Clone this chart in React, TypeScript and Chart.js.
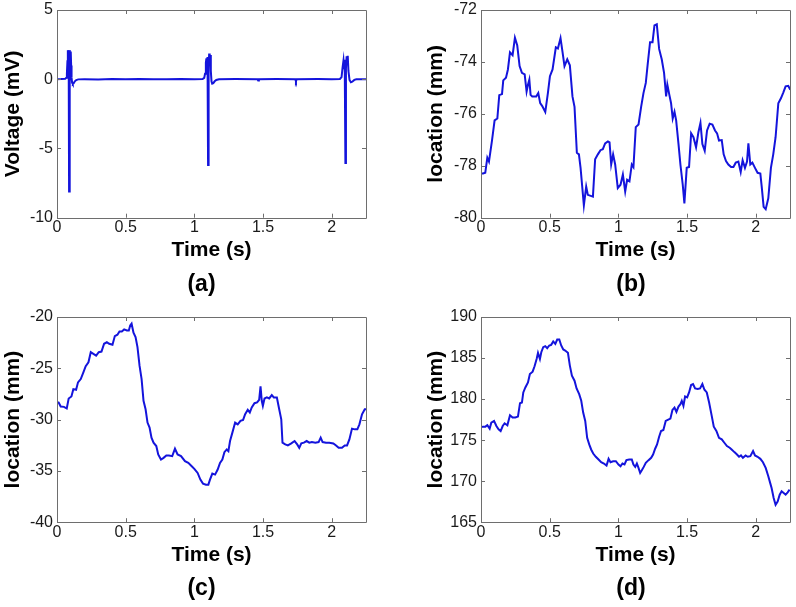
import React, { useEffect, useRef } from "react";
import { Chart, registerables } from "chart.js";

Chart.register(...registerables);

// ---------- data ----------
const xTickValues = [0, 0.5, 1, 1.5, 2];

// (a) ECG
const ecgTime = [
  0.0, 0.03, 0.06, 0.068, 0.072, 0.076, 0.079, 0.082, 0.085, 0.088, 0.091, 0.094, 0.097, 0.1, 0.103, 0.106,
  0.11, 0.115, 0.122, 0.13, 0.14, 0.155, 0.2, 0.3, 0.4, 0.5, 0.6, 0.7, 0.8, 0.9, 1.0,
  1.06, 1.072, 1.078, 1.084, 1.088, 1.092, 1.096, 1.1, 1.104, 1.108, 1.112, 1.116, 1.12, 1.125, 1.13, 1.138,
  1.148, 1.16, 1.18, 1.3, 1.46, 1.465, 1.47, 1.6, 1.735, 1.74, 1.745, 1.9, 2.0,
  2.06, 2.072, 2.08, 2.086, 2.09, 2.095, 2.1, 2.104, 2.109, 2.113, 2.117, 2.122, 2.13, 2.14, 2.15, 2.165, 2.18, 2.25,
];
const ecgVoltage = [
  0.0, 0.01, 0.03, 0.1, 0.4, 1.3, 2.1, 1.2, 2.05, -8.1, 0.8, 2.1, 1.4, 2.0, 1.0, 0.1,
  -0.25, -0.35, -0.28, -0.15, -0.06, -0.01, 0.0, -0.02, 0.01, -0.01, 0.02, 0.0, -0.01, 0.01, 0.0,
  0.02, 0.1, 0.4, 1.2, 1.5, 0.9, 1.6, -6.2, 0.9, 1.85, 1.3, 1.75, 0.6, -0.15, -0.32, -0.28,
  -0.15, -0.05, 0.0, 0.01, 0.0, -0.1, 0.0, 0.01, 0.0, -0.15, 0.0, 0.01, 0.0,
  0.02, 0.15, 0.9, 1.35, 0.8, 1.4, -6.05, 0.8, 1.65, 1.2, 1.7, 0.6, -0.05, -0.22, -0.18, -0.05, 0.0, 0.0,
];
const aYTicks = [-10, -5, 0, 5];

// (b)
const bTime = [
  0.007, 0.015, 0.031, 0.046, 0.058, 0.08, 0.099, 0.119, 0.133, 0.153, 0.162, 0.182, 0.196, 0.211, 0.23, 0.247,
  0.264, 0.281, 0.298, 0.318, 0.332, 0.342, 0.352, 0.361, 0.373, 0.402, 0.417, 0.431, 0.446, 0.468, 0.487,
  0.502, 0.521, 0.545, 0.56, 0.579, 0.594, 0.608, 0.628, 0.647, 0.666, 0.681, 0.698, 0.713, 0.725, 0.749,
  0.766, 0.778, 0.815, 0.831, 0.851, 0.87, 0.887, 0.904, 0.924, 0.936, 0.948, 0.962, 0.977, 0.996, 1.016,
  1.033, 1.05, 1.064, 1.081,
  1.098, 1.11, 1.127, 1.147, 1.166, 1.183, 1.2, 1.215, 1.231, 1.249, 1.263, 1.28, 1.297, 1.316, 1.333, 1.348,
  1.357, 1.37, 1.384, 1.396, 1.409, 1.421, 1.438, 1.452, 1.469, 1.481, 1.498, 1.515, 1.53, 1.547, 1.566,
  1.583, 1.598, 1.612, 1.629, 1.646, 1.665, 1.685, 1.704, 1.719, 1.733, 1.753, 1.767, 1.784, 1.801, 1.821,
  1.838, 1.855, 1.874, 1.891, 1.905, 1.922, 1.937, 1.947, 1.961, 1.976, 1.995, 2.014, 2.034, 2.044, 2.058,
  2.073, 2.092, 2.111, 2.128, 2.145, 2.165, 2.184, 2.201, 2.218, 2.237, 2.252,
];
const bLocation = [
  -78.3, -78.3, -78.27, -77.69, -77.84, -77.03, -76.25, -76.18, -75.28, -75.24, -74.71, -74.61, -74.29, -73.63, -73.74, -73.07,
  -73.37, -74.16, -74.42, -74.48, -75.14, -74.88, -74.68, -75.27, -75.33, -75.33, -75.2, -75.59, -75.7, -75.93, -75.2,
  -74.55, -74.29, -73.44, -73.48, -73.08, -73.63, -74.16, -73.9, -74.13, -75.33, -75.73, -77.5, -77.56, -78.08, -79.52,
  -78.8, -79.12, -79.19, -77.75, -77.56, -77.4, -77.36, -77.14, -77.06, -77.1, -77.95, -77.56, -77.95, -78.86, -78.73,
  -78.34, -78.99, -78.54, -78.6,
  -77.95, -78.05, -76.51, -76.41, -75.73, -75.2, -74.81, -74.03, -73.24, -73.24, -72.59, -72.55, -73.5, -73.9, -74.42, -75.33,
  -74.88, -75.23, -75.59, -76.18, -75.92, -76.25, -77.16, -77.95, -78.73, -79.45, -78.08, -78.05, -76.75, -76.9, -77.29,
  -76.71, -76.35, -77.16, -77.42, -76.64, -76.38, -76.41, -76.64, -76.75, -77.03, -77.01, -77.56, -77.82, -77.95, -78.05,
  -78.05, -77.88, -77.84, -78.24, -77.79, -78.08, -77.84, -77.14, -77.95, -77.88, -78.08, -78.27, -78.3, -78.8, -79.58,
  -79.67, -79.25, -78.08, -77.56, -76.9, -75.59, -75.4, -75.18, -74.94, -74.92, -75.07,
];
const bYTicks = [-80, -78, -76, -74, -72];

// (c)
const cTime = [
  0.007, 0.012, 0.027, 0.051, 0.071, 0.085, 0.105, 0.119, 0.139, 0.153, 0.173, 0.192, 0.209, 0.229, 0.246, 0.265,
  0.285, 0.304, 0.324, 0.343, 0.363, 0.38, 0.404, 0.421, 0.44, 0.455, 0.472, 0.489, 0.509, 0.523, 0.533,
  0.543, 0.557, 0.572, 0.586, 0.601, 0.616, 0.63, 0.645, 0.659, 0.674, 0.688, 0.703, 0.723, 0.737, 0.757,
  0.776, 0.796, 0.815, 0.839, 0.859, 0.878, 0.903, 0.932, 0.956, 0.981, 1.0, 1.024, 1.044, 1.063, 1.085,
  1.102, 1.114, 1.131, 1.151, 1.17, 1.187, 1.204, 1.219, 1.236, 1.248, 1.26, 1.277, 1.297, 1.316, 1.336, 1.355,
  1.37, 1.389, 1.404, 1.418, 1.438, 1.457, 1.472, 1.482, 1.491, 1.499, 1.511, 1.528, 1.545, 1.564, 1.579,
  1.601, 1.618, 1.633, 1.642, 1.662, 1.681, 1.706, 1.73, 1.749, 1.764, 1.779, 1.798, 1.818, 1.837, 1.856,
  1.881, 1.905, 1.92, 1.934, 1.959, 1.983, 2.012, 2.032, 2.051, 2.075, 2.095, 2.112, 2.129, 2.148, 2.168,
  2.187, 2.202, 2.221, 2.241, 2.255,
];
const cLocation = [
  -28.3, -28.33, -28.73, -28.76, -28.92, -27.94, -27.75, -27.03, -27.09, -26.37, -26.05, -25.39, -24.8, -24.41, -23.43, -23.59,
  -23.76, -23.43, -23.37, -22.61, -22.45, -22.61, -22.71, -21.86, -21.73, -21.41, -21.41, -21.21, -21.31, -21.31, -20.82,
  -20.65, -21.54, -21.96, -22.94, -24.74, -26.05, -28.17, -28.99, -30.29, -30.78, -31.76, -32.25, -32.58, -33.4, -33.89,
  -33.73, -33.5, -33.5, -33.56, -32.84, -33.4, -33.56, -34.05, -34.22, -34.54, -34.8, -35.2, -35.85, -36.24, -36.34,
  -36.34, -35.85, -35.26, -35.36, -34.87, -34.22, -33.89, -33.17, -32.91, -33.07, -32.09, -31.27, -30.29, -30.46, -30.13, -30.03,
  -29.48, -29.05, -29.31, -28.82, -28.4, -28.33, -28.07, -26.76, -28.17, -28.66, -27.94, -27.84, -27.94, -27.61, -27.84,
  -27.84, -28.99, -29.97, -32.25, -32.42, -32.52, -32.32, -32.09, -32.42, -32.75, -32.32, -32.25, -32.09, -32.25, -32.19,
  -32.25, -32.19, -31.76, -32.19, -32.25, -32.25, -32.32, -32.52, -32.75, -32.75, -32.52, -32.52, -31.93, -30.88, -30.95,
  -30.95, -30.46, -29.48, -28.99, -28.99,
];
const cYTicks = [-40, -35, -30, -25, -20];

// (d)
const dTime = [
  0.007, 0.015, 0.032, 0.046, 0.063, 0.075, 0.095, 0.112, 0.128, 0.143, 0.158, 0.172, 0.192, 0.211, 0.23, 0.25,
  0.269, 0.284, 0.298, 0.308, 0.323, 0.342, 0.356, 0.376, 0.39, 0.405, 0.415, 0.429, 0.439, 0.453, 0.468,
  0.482, 0.497, 0.511, 0.526, 0.541, 0.555, 0.57, 0.584, 0.599, 0.613, 0.633, 0.647, 0.662, 0.681, 0.696,
  0.715, 0.73, 0.744, 0.759, 0.773, 0.788, 0.802, 0.817, 0.836, 0.856, 0.875, 0.895, 0.914, 0.929, 0.943,
  0.962, 0.982, 1.001, 1.016, 1.03, 1.045, 1.059, 1.079,
  1.098, 1.11, 1.123, 1.135, 1.147, 1.159, 1.171, 1.185, 1.2, 1.22, 1.239, 1.253, 1.268, 1.282, 1.297, 1.311,
  1.328, 1.345, 1.36, 1.379, 1.394, 1.409, 1.423, 1.438, 1.452, 1.462, 1.474, 1.486, 1.501, 1.515, 1.53,
  1.544, 1.559, 1.578, 1.595, 1.612, 1.627, 1.644, 1.661, 1.68, 1.695, 1.714, 1.733, 1.753, 1.772, 1.791,
  1.811, 1.825, 1.845, 1.864, 1.879, 1.893, 1.907, 1.927, 1.942, 1.961, 1.981, 1.995, 2.014, 2.034, 2.053,
  2.073, 2.092, 2.107, 2.116, 2.131, 2.145, 2.16, 2.175, 2.189, 2.204, 2.218, 2.233, 2.247,
];
const dLocation = [
  176.6, 176.64, 176.64, 176.81, 176.4, 177.13, 177.34, 176.72, 176.32, 176.11, 176.72, 177.05, 176.81, 178.03, 177.75, 177.75,
  177.87, 179.5, 179.58, 180.81, 181.42, 182.03, 183.06, 183.34, 184.0, 184.89, 185.63, 184.89, 185.71, 186.32, 186.45,
  186.2, 186.53, 186.61, 187.02, 186.73, 187.26, 187.26, 186.53, 186.04, 185.92, 185.63, 184.08, 182.85, 182.24, 181.3,
  180.6, 179.79, 178.36, 177.34, 175.29, 174.48, 173.86, 173.37, 172.97, 172.64, 172.31, 172.15, 171.9, 172.72, 172.31,
  172.43, 172.43, 172.03, 171.82, 172.15, 172.03, 172.56, 172.64,
  172.64, 172.03, 171.74, 172.15, 171.62, 171.0, 171.33, 171.74, 172.23, 172.56, 172.84, 173.25, 173.95, 174.48, 175.42, 176.11,
  176.23, 177.34, 177.46, 177.62, 178.68, 178.97, 178.44, 179.09, 179.38, 179.79, 179.17, 180.32, 180.2, 180.81, 181.71,
  181.83, 181.3, 181.22, 181.3, 181.83, 181.14, 180.81, 179.58, 177.95, 176.64, 176.11, 175.29, 175.09, 174.68, 174.27,
  174.07, 173.86, 173.54, 173.25, 172.97, 173.13, 172.84, 173.13, 172.97, 173.05, 173.66, 173.13, 172.97, 172.72, 172.31,
  171.62, 170.6, 169.7, 169.17, 167.94, 167.12, 167.52, 168.35, 168.76, 168.55, 168.35, 168.63, 168.96,
];
const dYTicks = [165, 170, 175, 180, 185, 190];

// ---------- styling ----------
const FONT = "Arial, 'Liberation Sans', Helvetica, sans-serif";
const LINE_COLOR = "#1414dc";
const FRAME_COLOR = "#6e6e6e";
const TEXT_COLOR = "#1a1a1a";

const matlabFrame = {
  id: "matlabFrame",
  afterDatasetsDraw(chart: any) {
    const { ctx, chartArea, scales } = chart;
    const { left, right, top, bottom } = chartArea;
    const L = 4;
    ctx.save();
    ctx.strokeStyle = FRAME_COLOR;
    ctx.lineWidth = 1;
    ctx.beginPath();
    ctx.rect(Math.round(left) + 0.5, Math.round(top) + 0.5, Math.round(right - left), Math.round(bottom - top));
    for (const t of scales.x.ticks) {
      const px = Math.round(scales.x.getPixelForValue(t.value)) + 0.5;
      ctx.moveTo(px, bottom);
      ctx.lineTo(px, bottom - L);
      ctx.moveTo(px, top);
      ctx.lineTo(px, top + L);
    }
    for (const t of scales.y.ticks) {
      const py = Math.round(scales.y.getPixelForValue(t.value)) + 0.5;
      ctx.moveTo(left, py);
      ctx.lineTo(left + L, py);
      ctx.moveTo(right, py);
      ctx.lineTo(right - L, py);
    }
    ctx.stroke();
    ctx.restore();
  },
};

// Sub-figure caption "(a)" .. "(d)" below the axis title
const captionPlugin = {
  id: "caption",
  afterDraw(chart: any, _args: any, opts: any) {
    const { ctx, chartArea } = chart;
    ctx.save();
    ctx.font = `bold ${opts.size}px ${FONT}`;
    ctx.fillStyle = "#000";
    ctx.textAlign = "center";
    ctx.textBaseline = "middle";
    ctx.fillText(opts.text, (chartArea.left + chartArea.right) / 2 + opts.dx, chartArea.bottom + opts.dy);
    ctx.restore();
  },
};

type PanelDef = {
  time: number[];
  values: number[];
  yTicks: number[];
  yLabel: string;
  caption: string;
  captionDx: number;
  captionDy: number;
  pad: { left: number; right: number; top: number; bottom: number };
  yWidth: number;
  yTitlePad: number;
  xTitlePad: number;
};

function buildConfig(p: PanelDef): any {
  return {
    type: "line",
    data: {
      datasets: [
        {
          data: p.time.map((x, i) => ({ x, y: p.values[i] })),
          borderColor: LINE_COLOR,
          borderWidth: 2,
          pointRadius: 0,
          tension: 0,
          fill: false,
        },
      ],
    },
    options: {
      responsive: false,
      animation: false,
      events: [],
      layout: { padding: p.pad },
      plugins: {
        legend: { display: false },
        tooltip: { enabled: false },
        title: { display: false },
        caption: { text: p.caption, size: 23, dx: p.captionDx, dy: p.captionDy },
      },
      scales: {
        x: {
          type: "linear",
          min: 0,
          max: 2.25,
          afterBuildTicks: (s: any) => {
            s.ticks = xTickValues.map((v) => ({ value: v }));
          },
          grid: { display: false, drawTicks: false },
          border: { display: false },
          ticks: {
            color: TEXT_COLOR,
            padding: 0.5,
            maxRotation: 0,
            autoSkip: false,
            font: { family: FONT, size: 16, lineHeight: 1.2 },
            callback: (v: any) => String(v),
          },
          title: {
            display: true,
            text: "Time (s)",
            color: "#000",
            padding: { top: 0, bottom: p.xTitlePad },
            font: { family: FONT, size: 21, weight: "bold", lineHeight: 1.2 },
          },
        },
        y: {
          type: "linear",
          min: p.yTicks[0],
          max: p.yTicks[p.yTicks.length - 1],
          afterBuildTicks: (s: any) => {
            s.ticks = p.yTicks.map((v) => ({ value: v }));
          },
          afterFit: (s: any) => {
            s.width = p.yWidth;
          },
          grid: { display: false, drawTicks: false },
          border: { display: false },
          ticks: {
            color: TEXT_COLOR,
            padding: 4,
            autoSkip: false,
            font: { family: FONT, size: 16, lineHeight: 0.75 },
            callback: (v: any) => String(v),
          },
          title: {
            display: true,
            text: p.yLabel,
            color: "#000",
            padding: { top: p.yTitlePad, bottom: 0 },
            font: { family: FONT, size: 21, weight: "bold", lineHeight: 1.2 },
          },
        },
      },
    },
    plugins: [matlabFrame, captionPlugin],
  };
}

// x scale height is fixed by the bottom padding so that the axis title lands where the reference has it
const panels: { def: PanelDef; left: number; top: number; width: number; height: number }[] = [
  {
    left: 0, top: 0, width: 398, height: 303,
    def: {
      time: ecgTime, values: ecgVoltage, yTicks: aYTicks, yLabel: "Voltage (mV)", caption: "(a)",
      captionDx: -10, captionDy: 66.5,
      pad: { left: 0, right: 32, top: 10, bottom: 36.3 }, yWidth: 57, yTitlePad: 1, xTitlePad: 3.6,
    },
  },
  {
    left: 398, top: 0, width: 398, height: 303,
    def: {
      time: bTime, values: bLocation, yTicks: bYTicks, yLabel: "location (mm)", caption: "(b)",
      captionDx: -4.5, captionDy: 66.5,
      pad: { left: 0, right: 6, top: 10, bottom: 36.3 }, yWidth: 83, yTitlePad: 25.4, xTitlePad: 3.6,
    },
  },
  {
    left: 0, top: 303, width: 398, height: 304,
    def: {
      time: cTime, values: cLocation, yTicks: cYTicks, yLabel: "location (mm)", caption: "(c)",
      captionDx: -10, captionDy: 66,
      pad: { left: 0, right: 32, top: 14, bottom: 33.8 }, yWidth: 57, yTitlePad: 1, xTitlePad: 5.6,
    },
  },
  {
    left: 398, top: 303, width: 398, height: 304,
    def: {
      time: dTime, values: dLocation, yTicks: dYTicks, yLabel: "location (mm)", caption: "(d)",
      captionDx: -4.5, captionDy: 66,
      pad: { left: 0, right: 6, top: 14, bottom: 33.8 }, yWidth: 83, yTitlePad: 25.4, xTitlePad: 5.6,
    },
  },
];

function Panel(props: { def: PanelDef; left: number; top: number; width: number; height: number }) {
  const ref = useRef<HTMLCanvasElement | null>(null);
  useEffect(() => {
    if (!ref.current) return;
    const chart = new Chart(ref.current, buildConfig(props.def));
    return () => chart.destroy();
  }, []);
  return (
    <canvas
      ref={ref}
      width={props.width}
      height={props.height}
      style={{ position: "absolute", left: props.left, top: props.top, width: props.width, height: props.height }}
    />
  );
}

export default function App() {
  return (
    <div style={{ position: "absolute", left: 0, top: 0, width: 796, height: 607, background: "#fff", overflow: "hidden" }}>
      {panels.map((p, i) => (
        <Panel key={i} {...p} />
      ))}
    </div>
  );
}
